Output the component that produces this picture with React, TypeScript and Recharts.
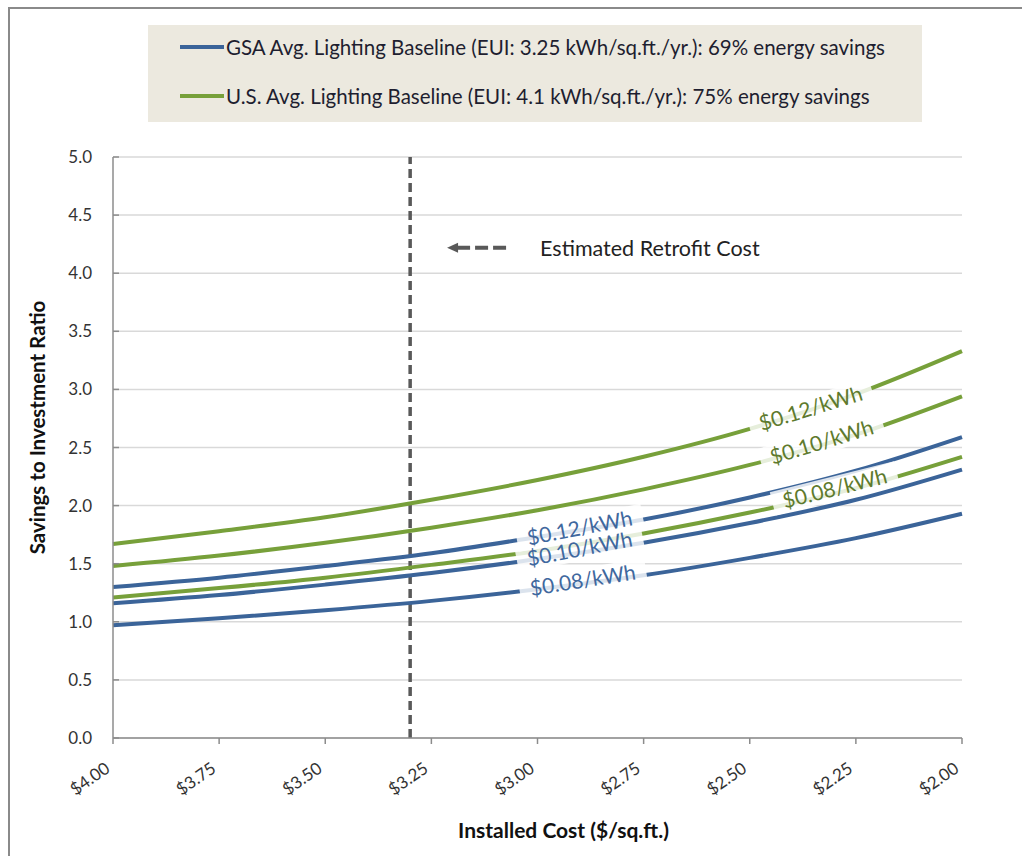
import React from 'react';
import { LineChart, Line, XAxis, YAxis, CartesianGrid, ReferenceLine, ReferenceDot, Label } from 'recharts';

// installed cost ($/sq.ft.), read at each axis tick
const costs = [4.0, 3.75, 3.5, 3.25, 3.0, 2.75, 2.5, 2.25, 2.0];
const xTicks = [4.0, 3.75, 3.5, 3.25, 3.0, 2.75, 2.5, 2.25, 2.0];
const yTicks = [0, 0.5, 1, 1.5, 2, 2.5, 3, 3.5, 4, 4.5, 5];

// savings to investment ratio
const gsa08 = [0.97, 1.03, 1.1, 1.18, 1.28, 1.4, 1.55, 1.72, 1.93];
const gsa10 = [1.16, 1.23, 1.32, 1.42, 1.54, 1.68, 1.85, 2.05, 2.31];
const gsa12 = [1.3, 1.38, 1.48, 1.59, 1.73, 1.88, 2.07, 2.3, 2.59];
const us08 = [1.21, 1.29, 1.38, 1.49, 1.61, 1.76, 1.94, 2.15, 2.42];
const us10 = [1.48, 1.57, 1.68, 1.81, 1.96, 2.14, 2.35, 2.61, 2.94];
const us12 = [1.67, 1.78, 1.9, 2.05, 2.22, 2.42, 2.66, 2.96, 3.33];

const retrofitCost = 3.3;

const legendItems = [
  { name: 'GSA Avg. Lighting Baseline (EUI: 3.25 kWh/sq.ft./yr.): 69% energy savings', color: '#3b6499' },
  { name: 'U.S. Avg. Lighting Baseline (EUI: 4.1 kWh/sq.ft./yr.): 75% energy savings', color: '#77a03a' },
];

// inline rate labels: [x, y, text, angle, group]
const rateLabels: [number, number, string, number, string][] = [
  [2.9, 1.8, '$0.12/kWh', -11, 'gsa'],
  [2.9, 1.62, '$0.10/kWh', -11, 'gsa'],
  [2.893, 1.35, '$0.08/kWh', -9, 'gsa'],
  [2.356, 2.83, '$0.12/kWh', -17, 'us'],
  [2.33, 2.54, '$0.10/kWh', -17, 'us'],
  [2.299, 2.14, '$0.08/kWh', -14, 'us'],
];

const data = costs.map((cost, i) => ({
  cost,
  gsa08: gsa08[i],
  gsa10: gsa10[i],
  gsa12: gsa12[i],
  us08: us08[i],
  us10: us10[i],
  us12: us12[i],
}));

const BLUE = '#3b6499';
const GREEN = '#77a03a';
const FONT = 'Lato, "Open Sans", sans-serif';

const XTick = (props: any) => {
  const { x, y, payload } = props;
  return (
    <g transform={`translate(${x - 2},${y + 25}) rotate(-35)`}>
      <text x={0} y={0} textAnchor="end" fontSize={17} fill="#333" fontFamily={FONT}>
        {`$${Number(payload.value).toFixed(2)}`}
      </text>
    </g>
  );
};

const YTitle = (props: any) => {
  const { viewBox } = props;
  const x = viewBox.x - 16;
  const y = viewBox.y + viewBox.height / 2 - 20;
  return (
    <text transform={`translate(${x},${y}) rotate(-90)`} textAnchor="middle" dominantBaseline="central" fontSize={20.5} fontWeight={700} fill="#111" fontFamily={FONT}>
      Savings to Investment Ratio
    </text>
  );
};

const RateLabel = (text: string, angle: number, group: string) => (props: any) => {
  const { cx, cy } = props;
  const color = group === 'gsa' ? '#3f689e' : '#5e7a2d';
  return (
    <g transform={`translate(${cx},${cy}) rotate(${angle})`}>
      <rect x={-64} y={-13} width={128} height={24} fill="#ffffff" fillOpacity={0.82} />
      <text x={0} y={-2} textAnchor="middle" dominantBaseline="central" fontSize={21} fill={color} fontFamily={FONT}>
        {text}
      </text>
    </g>
  );
};

const RetrofitNote = (props: any) => {
  const { cx, cy } = props;
  return (
    <g>
      <polygon points={`${cx},${cy} ${cx + 11},${cy - 5} ${cx + 11},${cy + 5}`} fill="#595959" />
      <line x1={cx + 10} y1={cy} x2={cx + 62} y2={cy} stroke="#595959" strokeWidth={4} strokeDasharray="13 5" />
      <text x={cx + 93} y={cy} dominantBaseline="central" fontSize={21.5} fill="#222" fontFamily={FONT}>
        Estimated Retrofit Cost
      </text>
    </g>
  );
};

export default function App() {
  return (
    <div style={{ position: 'fixed', left: 0, top: 0, width: 1022, height: 856, background: '#fff', fontFamily: FONT }}>
      <div style={{ position: 'absolute', left: 8, top: 7, right: -4, bottom: -4, borderLeft: '2px solid #8a8a8a', borderTop: '2px solid #8a8a8a' }} />
      <div style={{ position: 'absolute', left: 148, top: 25, width: 774, height: 97, background: '#ece9df' }}>
        {legendItems.map((item, i) => (
          <div key={item.name} style={{ position: 'absolute', left: 32, top: 22 + i * 49 - 12, height: 24, display: 'flex', alignItems: 'center', whiteSpace: 'nowrap' }}>
            <span style={{ display: 'inline-block', width: 44, height: 4, background: item.color, marginRight: 2 }} />
            <span style={{ fontSize: 20.5, color: '#1e1e30' }}>{item.name}</span>
          </div>
        ))}
      </div>
      <div style={{ position: 'absolute', left: 0, top: 0 }}>
        <LineChart width={1022} height={856} data={data} margin={{ top: 157, right: 60, bottom: 58, left: 53 }}>
          <CartesianGrid vertical={false} stroke="#d9d9d9" strokeWidth={1.5} />
          <XAxis
            dataKey="cost"
            type="number"
            domain={[2, 4]}
            reversed
            ticks={xTicks}
            interval={0}
            height={60}
            tick={<XTick />}
            tickSize={6}
            stroke="#8c8c8c"
            strokeWidth={1.5}
          >
            <Label value="Installed Cost ($/sq.ft.)" position="insideBottom" offset={-40} dx={26} style={{ fontSize: 21, fontWeight: 700, fill: '#111', fontFamily: FONT }} />
          </XAxis>
          <YAxis
            type="number"
            domain={[0, 5]}
            ticks={yTicks}
            interval={0}
            width={60}
            tickSize={-6}
            tickMargin={27}
            tickFormatter={(v: number) => v.toFixed(1)}
            tick={{ fontSize: 17, fill: '#333', fontFamily: FONT }}
            stroke="#8c8c8c"
            strokeWidth={1.5}
          >
            <Label content={YTitle} />
          </YAxis>
          <ReferenceLine x={retrofitCost} stroke="#595959" strokeWidth={3.5} strokeDasharray="9 5" />
          <Line type="monotone" dataKey="us12" stroke={GREEN} strokeWidth={4} dot={false} isAnimationActive={false} />
          <Line type="monotone" dataKey="us10" stroke={GREEN} strokeWidth={4} dot={false} isAnimationActive={false} />
          <Line type="monotone" dataKey="us08" stroke={GREEN} strokeWidth={4} dot={false} isAnimationActive={false} />
          <Line type="monotone" dataKey="gsa12" stroke={BLUE} strokeWidth={4} dot={false} isAnimationActive={false} />
          <Line type="monotone" dataKey="gsa10" stroke={BLUE} strokeWidth={4} dot={false} isAnimationActive={false} />
          <Line type="monotone" dataKey="gsa08" stroke={BLUE} strokeWidth={4} dot={false} isAnimationActive={false} />
          {rateLabels.map(([x, y, text, angle, group], i) => (
            <ReferenceDot key={i} x={x} y={y} r={0} shape={RateLabel(text, angle, group)} />
          ))}
          <ReferenceDot x={3.213} y={4.22} r={0} shape={RetrofitNote} />
        </LineChart>
      </div>
    </div>
  );
}
